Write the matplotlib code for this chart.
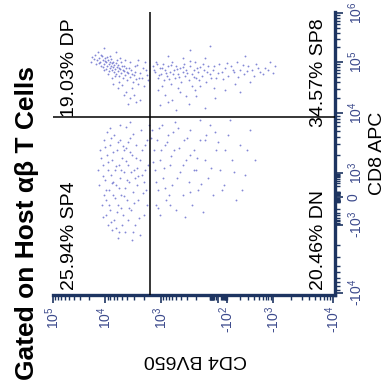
import numpy as np
import matplotlib
matplotlib.use("Agg")
import matplotlib.pyplot as plt

plt.rcParams["font.family"] = ["Liberation Sans", "DejaVu Sans"]
plt.rcParams["mathtext.fontset"] = "custom"
plt.rcParams["mathtext.rm"] = "Liberation Sans"
plt.rcParams["mathtext.it"] = "Liberation Sans"
plt.rcParams["mathtext.bf"] = "Liberation Sans:bold"

# events, per quadrant (CD4 BV650, CD8 APC)
DP_CD4 = [17800, 15600, 14300, 13000, 12500, 11400, 10900, 10400, 10000, 9600,
          9200, 8800, 8500, 8100, 8100, 7800, 7500, 7500, 7200, 6900,
          6900, 6600, 6400, 6400, 6100, 5900, 5900, 5600, 5400, 5200,
          5000, 4800, 4600, 4400, 4200, 4050, 3900, 3600, 3400, 3160,
          3030, 2800, 2580, 2370, 2180, 2010, 1850, 1710, 7500, 8800,
          10400, 11900, 13600, 5400, 4400, 3600, 2910, 5000, 4200, 3600,
          5900, 3900, 3030, 2370, 10400, 6400, 2580, 1930, 14900, 8100,
          18600, 16300, 13000, 11900, 10900, 10000, 9600, 9200, 8500, 7800,
          7200, 6600, 6100, 5600, 5200, 4800, 4600, 4050, 3700, 3300,
          2910, 2680, 2470, 2100, 1780, 5600, 4600, 7200, 3300, 2800]
DP_CD8 = [126000, 139000, 110000, 121000, 100000, 133000, 110000, 91400, 121000, 100000,
          83500, 110000, 91400, 76300, 100000, 83500, 69700, 95500, 79800, 63700,
          87300, 72900, 95500, 58200, 79800, 66600, 87300, 53100, 72900, 60900,
          83500, 48500, 66600, 55600, 76300, 44400, 60900, 50800, 69700, 40500,
          55600, 46400, 37000, 60900, 48500, 33800, 69700, 44400, 48500, 58200,
          69700, 83500, 160000, 121000, 110000, 100000, 83500, 35400, 25800, 19700,
          30900, 15000, 22500, 18000, 193000, 160000, 110000, 100000, 91400, 133000,
          100000, 115000, 95500, 139000, 79800, 105000, 72900, 126000, 66600, 115000,
          100000, 53100, 110000, 76300, 100000, 69700, 83500, 63700, 76300, 58200,
          63700, 87300, 48500, 76300, 55600, 40500, 22500, 37000, 30900, 16400]

SP8_CD4 = [1390, 1280, 1230, 1130, 1040, 1000, 910, 870, 830, 755,
           720, 655, 630, 600, 540, 520, 495, 450, 410, 390,
           370, 340, 325, 310, 280, 256, 244, 233, 212, 202,
           193, 176, 160, 146, 135, 121, 110, 100, 35, 8,
           -3, -19, -55, -105, -123, -142, -165, -192, -234, -286,
           -350, -427, -520, -670, -860, -1080, 1130, 830, 600, 410,
           280, 193, 127, 14, -55, 1040, 495, -150, -316, 256,
           100, -246, 720, 355, 160,
           1330, 1180, 1080, 950, 790, 690, 630, 570, 470, 430,
           355, 295, 268, 222, 185, 168, 140, 115, 72, 23,
           1, -28, -100, -135, -175, -224, -272, -385, -470, -605,
           -770, -1000, 950, 450, 202, 23, 720, 310, -192, 127]
SP8_CD8 = [83500, 63700, 100000, 48500, 76300, 58200, 91400, 44400, 69700, 53100,
           83500, 63700, 37000, 100000, 69700, 48500, 83500, 58200, 76300, 40500,
           63700, 91400, 53100, 69700, 44400, 83500, 58200, 33800, 69700, 100000,
           48500, 63700, 79800, 53100, 69700, 40500, 83500, 58200, 69700, 48500,
           91400, 63700, 76300, 53100, 83500, 63700, 100000, 69700, 58200, 83500,
           69700, 91400, 63700, 76300, 100000, 83500, 28200, 22500, 18000, 25800,
           15000, 21500, 12500, 19700, 28200, 14300, 11500, 37000, 40500, 176000,
           212000, 133000, 133000, 121000, 33800,
           69700, 91400, 55600, 76300, 60900, 46400, 87300, 58200, 72900, 50800,
           79800, 60900, 105000, 50800, 76300, 44400, 91400, 63700, 48500, 83500,
           60900, 46400, 95500, 69700, 50800, 87300, 66600, 53100, 76300, 58200,
           69700, 60900, 33800, 30900, 28200, 30900, 16400, 21500, 25800, 121000]

SP4_CD4 = [12500, 10900, 10400, 10000, 9600, 9200, 8800, 8500, 8100, 8100,
           7800, 7500, 7200, 6900, 6900, 6600, 6400, 6100, 5900, 5600,
           5400, 5400, 5200, 5000, 4800, 4600, 4400, 4200, 4050, 3900,
           3700, 3600, 3400, 3300, 3160, 3030, 2910, 2800, 2680, 2580,
           2370, 2280, 2180, 2010, 1930, 1850, 1710, 1640, 7500, 5900,
           4400, 8800, 11400, 13000, 13600, 3600, 5400, 8100, 2370, 1780,
           9600, 6400, 3300, 4600, 7200, 2680, 10400, 3900, 5200, 2910,
           11900, 10900, 10000, 9600, 8800, 8500, 7800, 7500, 7200, 6600,
           6400, 6100, 5900, 5600, 5200, 5000, 4800, 4600, 4200, 4050,
           3700, 3600, 3400, 3160, 3030, 2800, 2580, 2470, 2180, 2100,
           1930, 1780, 9200, 5600, 4200, 7800, 10900, 3160, 2010, 3900]
SP4_CD8 = [2420, 1360, 3550, 428, -32, 2000, 1120, 127, 2930, -223,
           785, 1650, 16, 4300, -606, 1120, 234, 2420, -135, 1360,
           546, 3550, 16, 1780, -367, 1040, 162, 2610, -32, 1360,
           336, 3830, -223, 2000, 100, 1120, -1000, 2930, 234, -32,
           1650, 5210, 785, -367, 2930, 127, 1360, 6310, -1180, -1550,
           -1270, -1000, -135, 234, 1120, 7080, 6310, 5620, -1400, -135,
           -367, -1110, -1660, 2420, 336, 1210, 16, -606, -182, 546,
           1780, 695, 2710, 127, 1520, -137, 3830, 295, 2240, -6,
           1310, -272, 3290, 162, 1120, -1000, 2820, 6, 1590, 428,
           -182, 2240, 1040, 4470, -118, 1780, 695, -496, 2420, 58,
           1120, 3550, 4820, -1270, 5840, -741, -449, -1270, 336, 3290]

DN_CD4 = [1450, 1330, 1280, 1180, 1130, 1040, 950, 910, 830, 790,
          720, 655, 600, 540, 495, 450, 410, 370, 340, 310,
          280, 256, 233, 212, 193, 176, 160, 140, 127, 110,
          100, 35, 8, -7, -39, -105, -130, -157, -192, -246,
          -316, -405, 1040, 520, 325, 160, 14, -116, 655, 1230,
          256, -55, -212, 830, 127,
          1510, 1390, 1230, 1080, 1000, 870, 755, 690, 630, 570,
          470, 430, 355, 295, 268, 222, 185, 153, 121, 72,
          0, -19, -142, -272, 1130]
DN_CD8 = [5210, 2420, 1120, 3550, 127, 1650, 6310, 546, 2930, -32,
          4300, 1360, 234, 2420, -223, 5620, 1040, 16, 3550, 1650,
          336, 5210, -135, 2420, 1120, 127, 3550, -272, 1650, 546,
          6310, 16, 2420, 1120, 234, 4300, 1650, -32, 2930, 785,
          5210, 1650, -367, 7080, -450, 7640, 4820, 7640, -135, -135,
          2000, 2420, 127, 162, 3550,
          3830, 1520, 336, 5620, 2420, 1210, 3290, 16, 1920, 4820,
          546, 2610, 1360, 3830, 100, 1120, 1780, 264, 4300, 1210,
          3290, 127, 1040, 2420, -182]

CD4_GATE = 1570
CD8_GATE = 8600
QUADRANT_LABELS = ["19.03% DP", "34.57% SP8", "25.94% SP4", "20.46% DN"]

X_TICKS = [-1e4, -1e3, -1e2, 0, 1e3, 1e4, 1e5]
X_TICK_LABELS = ["-$10^{4}$", "-$10^{3}$", "-$10^{2}$", "", "$10^{3}$", "$10^{4}$", "$10^{5}$"]
Y_TICKS = [-1e4, -1e3, 0, 1e3, 1e4, 1e5, 1e6]
Y_TICK_LABELS = ["-$10^{4}$", "-$10^{3}$", "0", "$10^{3}$", "$10^{4}$", "$10^{5}$", "$10^{6}$"]

# display geometry of the biexponential axes (decade anchors -> axis units)
X_ANCHORS = [-1e6, -1e5, -1e4, -1e3, -1e2, 0, 1e2, 1e3, 1e4, 1e5, 1e6]
X_UNITS = [-118, -58, 2, 62, 108, 117, 125, 174, 230, 282, 334]
Y_ANCHORS = [-1e6, -1e5, -1e4, -1e3, -1e2, 0, 1e2, 1e3, 1e4, 1e5, 1e6, 1e7]
Y_UNITS = [-134, -66, 2, 70, 93, 98, 103, 122, 182, 233, 282, 331]

AXIS_COLOR = "#1d3461"
TICK_TEXT = "#3c4a8c"
DOT_COLOR = "#5a60c8"


def _u(v):
    v = np.asarray(v, dtype=float)
    return np.sign(v) * np.log10(1 + np.abs(v) / 10)


def _u_inv(u):
    u = np.asarray(u, dtype=float)
    return np.sign(u) * 10 * (10 ** np.abs(u) - 1)


def _biex(anchors, units):
    ua = _u(anchors)

    def forward(v):
        return np.interp(_u(v), ua, units)

    def inverse(p):
        return _u_inv(np.interp(p, units, ua))

    return forward, inverse


def _minor(decades, signs):
    return [s * m * 10 ** k for s in signs for k in decades for m in range(1, 10)]


fig = plt.figure(figsize=(3.89, 3.82), dpi=100)
ax = fig.add_axes([53 / 389, 87 / 382, 282 / 389, 283 / 382])
ax.set_xscale("function", functions=_biex(X_ANCHORS, X_UNITS))
ax.set_yscale("function", functions=_biex(Y_ANCHORS, Y_UNITS))

for cd4, cd8 in [(DP_CD4, DP_CD8), (SP8_CD4, SP8_CD8), (SP4_CD4, SP4_CD8), (DN_CD4, DN_CD8)]:
    ax.scatter(cd4, cd8, s=1.8, color=DOT_COLOR, linewidths=0, alpha=0.75, zorder=2)

ax.axvline(CD4_GATE, color="black", linewidth=1.1, zorder=3)
ax.axhline(CD8_GATE, color="black", linewidth=1.1, zorder=3)

ax.set_xlim(1e5, -1.08e4)
ax.set_ylim(-1.08e4, 1.05e6)

ax.yaxis.tick_right()
ax.set_xticks(X_TICKS, X_TICK_LABELS)
ax.set_yticks(Y_TICKS, Y_TICK_LABELS)
x_minor = _minor((1, 2, 3, 4), (1,)) + _minor((1, 2, 3), (-1,))
y_minor = _minor((1, 2, 3, 4, 5), (1,)) + _minor((1, 2, 3), (-1,))
ax.set_xticks([v for v in x_minor if -1.08e4 < v < 1e5], minor=True)
ax.set_yticks([v for v in y_minor if -1.08e4 < v < 1.05e6], minor=True)

ax.tick_params(which="both", bottom=True, right=True, left=False, top=False)
ax.tick_params(which="major", direction="out", length=6, width=1.2, color=AXIS_COLOR,
               labelcolor=TICK_TEXT, labelsize=10, pad=2)
ax.tick_params(which="minor", direction="out", length=3.5, width=1.0, color=AXIS_COLOR)
ax.tick_params(axis="both", labelrotation=90)
for label in ax.get_yticklabels():
    label.set_verticalalignment("center")

for side in ("left", "top"):
    ax.spines[side].set_visible(False)
for side in ("bottom", "right"):
    ax.spines[side].set_color(AXIS_COLOR)
    ax.spines[side].set_linewidth(2.4)

quad_style = dict(transform=ax.transAxes, rotation=90, fontsize=14, color="black", zorder=4)
ax.text(0.028, 0.979, QUADRANT_LABELS[0], ha="left", va="top", **quad_style)
ax.text(0.972, 0.979, QUADRANT_LABELS[1], ha="right", va="top", **quad_style)
ax.text(0.028, 0.018, QUADRANT_LABELS[2], ha="left", va="bottom", **quad_style)
ax.text(0.972, 0.018, QUADRANT_LABELS[3], ha="right", va="bottom", **quad_style)

fig.text(27 / 389, 0.415, "Gated on Host αβ T Cells", rotation=90, fontsize=19,
         fontweight="bold", ha="center", va="center")
fig.text(195 / 389, 0.060, "CD4 BV650", rotation=180, fontsize=14, ha="center", va="center")
fig.text(378 / 389, 0.5995, "CD8 APC", rotation=90, fontsize=14, ha="center", va="center")

fig.savefig("out.png", dpi=100)
